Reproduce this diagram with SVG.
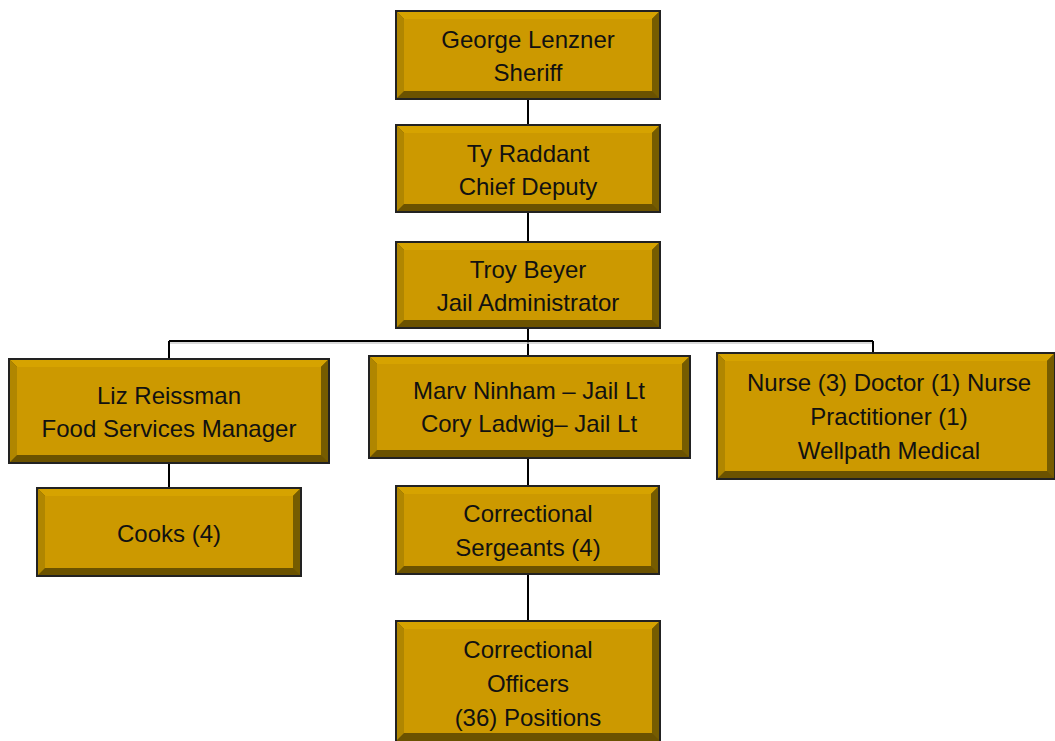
<svg xmlns="http://www.w3.org/2000/svg" width="1055" height="741" viewBox="0 0 1055 741">
<style>
.face{fill:#cc9900}
.bt{fill:#d6a300}
.bl{fill:#b08600}
.br{fill:#765c00}
.bb{fill:#6b5200}
.out{fill:none;stroke:#222;stroke-width:2}
.lbl{font-family:"Liberation Sans",Arial,sans-serif;font-size:24px;fill:#111;text-anchor:middle}
.conn{stroke:#000;stroke-width:2;fill:none}
</style>
<rect width="1055" height="741" fill="#fff"/>
<g id="connectors">
<path class="conn" d="M528 99V125M528 212V242M528 328V356M169 341H873M169 341V359M873 341V353M169 463V488M528 458V486M528 574V621"/>
<path d="M170 343H872" stroke="#ccc" stroke-width="1.5" fill="none"/>
</g>
<g id="george">
<rect class="bb" x="396" y="11" width="264" height="88"/>
<polygon class="bt" points="396,11 660,11 652,19 404,19"/>
<polygon class="bl" points="396,11 404,19 404,91 396,99"/>
<polygon class="br" points="660,11 660,99 652,91 652,19"/>
<rect class="face" x="404" y="19" width="248" height="72"/>
<rect class="out" x="396" y="11" width="264" height="88"/>
<text class="lbl" x="528" y="48">George Lenzner</text>
<text class="lbl" x="528" y="81">Sheriff</text>
</g>
<g id="ty">
<rect class="bb" x="396" y="125" width="264" height="87"/>
<polygon class="bt" points="396,125 660,125 652,133 404,133"/>
<polygon class="bl" points="396,125 404,133 404,204 396,212"/>
<polygon class="br" points="660,125 660,212 652,204 652,133"/>
<rect class="face" x="404" y="133" width="248" height="71"/>
<rect class="out" x="396" y="125" width="264" height="87"/>
<text class="lbl" x="528" y="162">Ty Raddant</text>
<text class="lbl" x="528" y="195">Chief Deputy</text>
</g>
<g id="troy">
<rect class="bb" x="396" y="242" width="264" height="86"/>
<polygon class="bt" points="396,242 660,242 652,250 404,250"/>
<polygon class="bl" points="396,242 404,250 404,320 396,328"/>
<polygon class="br" points="660,242 660,328 652,320 652,250"/>
<rect class="face" x="404" y="250" width="248" height="70"/>
<rect class="out" x="396" y="242" width="264" height="86"/>
<text class="lbl" x="528" y="278">Troy Beyer</text>
<text class="lbl" x="528" y="311">Jail Administrator</text>
</g>
<g id="liz">
<rect class="bb" x="9" y="359" width="320" height="104"/>
<polygon class="bt" points="9,359 329,359 321,367 17,367"/>
<polygon class="bl" points="9,359 17,367 17,455 9,463"/>
<polygon class="br" points="329,359 329,463 321,455 321,367"/>
<rect class="face" x="17" y="367" width="304" height="88"/>
<rect class="out" x="9" y="359" width="320" height="104"/>
<text class="lbl" x="169" y="404">Liz Reissman</text>
<text class="lbl" x="169" y="437">Food Services Manager</text>
</g>
<g id="marv">
<rect class="bb" x="369" y="356" width="321" height="102"/>
<polygon class="bt" points="369,356 690,356 682,364 377,364"/>
<polygon class="bl" points="369,356 377,364 377,450 369,458"/>
<polygon class="br" points="690,356 690,458 682,450 682,364"/>
<rect class="face" x="377" y="364" width="305" height="86"/>
<rect class="out" x="369" y="356" width="321" height="102"/>
<text class="lbl" x="529" y="399">Marv Ninham – Jail Lt</text>
<text class="lbl" x="529" y="432">Cory Ladwig– Jail Lt</text>
</g>
<g id="nurse">
<rect class="bb" x="717" y="353" width="338" height="126"/>
<polygon class="bt" points="717,353 1055,353 1047,361 725,361"/>
<polygon class="bl" points="717,353 725,361 725,471 717,479"/>
<polygon class="br" points="1055,353 1055,479 1047,471 1047,361"/>
<rect class="face" x="725" y="361" width="322" height="110"/>
<rect class="out" x="717" y="353" width="338" height="126"/>
<text class="lbl" x="889" y="391">Nurse (3) Doctor (1) Nurse</text>
<text class="lbl" x="889" y="425">Practitioner (1)</text>
<text class="lbl" x="889" y="459">Wellpath Medical</text>
</g>
<g id="cooks">
<rect class="bb" x="37" y="488" width="264" height="88"/>
<polygon class="bt" points="37,488 301,488 293,496 45,496"/>
<polygon class="bl" points="37,488 45,496 45,568 37,576"/>
<polygon class="br" points="301,488 301,576 293,568 293,496"/>
<rect class="face" x="45" y="496" width="248" height="72"/>
<rect class="out" x="37" y="488" width="264" height="88"/>
<text class="lbl" x="169" y="542">Cooks (4)</text>
</g>
<g id="sergeants">
<rect class="bb" x="396" y="486" width="263" height="88"/>
<polygon class="bt" points="396,486 659,486 651,494 404,494"/>
<polygon class="bl" points="396,486 404,494 404,566 396,574"/>
<polygon class="br" points="659,486 659,574 651,566 651,494"/>
<rect class="face" x="404" y="494" width="247" height="72"/>
<rect class="out" x="396" y="486" width="263" height="88"/>
<text class="lbl" x="528" y="522">Correctional</text>
<text class="lbl" x="528" y="556">Sergeants (4)</text>
</g>
<g id="officers">
<rect class="bb" x="396" y="621" width="264" height="126"/>
<polygon class="bt" points="396,621 660,621 652,629 404,629"/>
<polygon class="bl" points="396,621 404,629 404,733 396,741"/>
<polygon class="br" points="660,621 660,741 652,733 652,629"/>
<rect class="face" x="404" y="629" width="248" height="104"/>
<rect class="out" x="396" y="621" width="264" height="126"/>
<text class="lbl" x="528" y="658">Correctional</text>
<text class="lbl" x="528" y="692">Officers</text>
<text class="lbl" x="528" y="726">(36) Positions</text>
</g>
</svg>
